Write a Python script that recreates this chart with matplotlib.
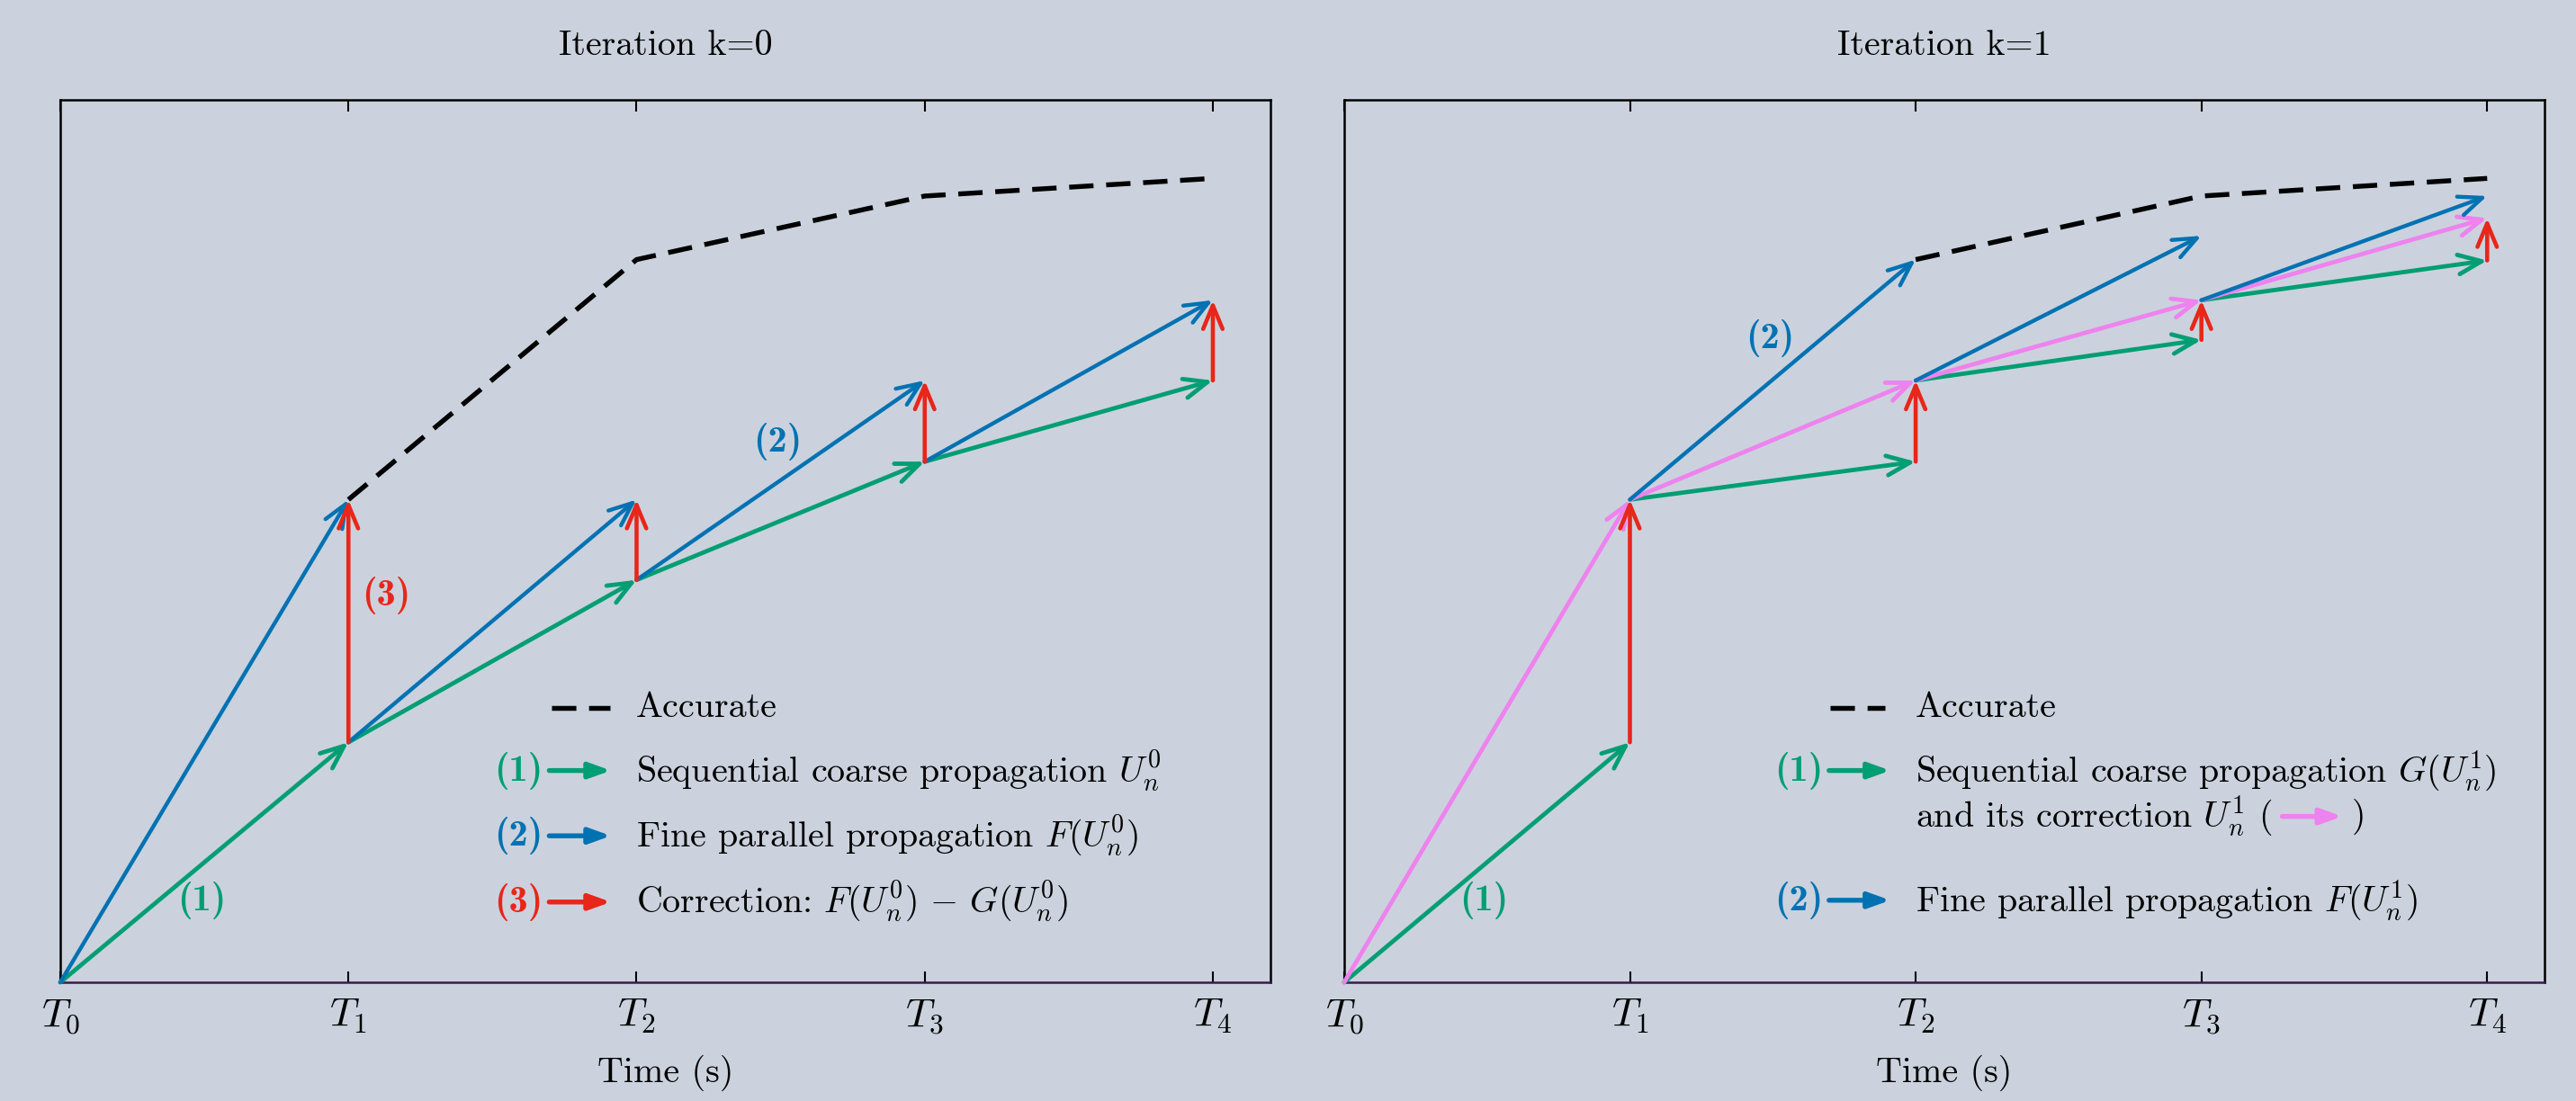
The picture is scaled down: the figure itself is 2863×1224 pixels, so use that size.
import numpy as np
import matplotlib
matplotlib.use("Agg")
from matplotlib import pyplot as plt

plt.rcParams['font.family'] = 'serif'
plt.rcParams['font.serif'] = ['cmr10']
plt.rcParams['mathtext.fontset'] = 'cm'
plt.rcParams['axes.unicode_minus'] = False
plt.rcParams['font.size'] = 9.6

BG = '#cbd2dd'
GREEN = '#009e73'
BLUE = '#0072b2'
RED = '#e8261a'
PINK = '#ee82ee'
FS = 9.6
DASH = (0, (5, 2.6))

# time points
times = [0, 1, 2, 3, 4]
tick_labels = [r'$T_0$', r'$T_1$', r'$T_2$', r'$T_3$', r'$T_4$']

# accurate solution (dashed)
accurate = [0.0, 5.47, 8.19, 8.91, 9.11]

# iteration k=0
coarse_k0 = [0.0, 2.72, 4.56, 5.90, 6.82]      # U_n^0
fine_k0 = [5.47, 5.47, 6.82, 7.73]             # F(U_n^0) at T_{n+1}

# iteration k=1
corrected_k1 = [0.0, 5.47, 6.82, 7.73, 8.66]   # U_n^1 (pink)
coarse_k1 = [2.72, 5.90, 7.28, 8.18]           # G(U_n^1) at T_{n+1}
fine_k1 = [8.19, 8.46, 8.91]                   # F(U_n^1) at T_{n+2}


def arrow(ax, p0, p1, color, lw, style='->,head_length=0.65,head_width=0.27',
          transform=None, z=3):
    kw = dict(arrowstyle=style, color=color, lw=lw, shrinkA=0, shrinkB=0)
    if transform is None:
        ax.annotate('', xy=p1, xytext=p0, arrowprops=kw, zorder=z)
    else:
        ax.annotate('', xy=p1, xytext=p0, xycoords=transform,
                    textcoords=transform, arrowprops=kw, zorder=z)


def tag(ax, x, y, num, color, transform=None, ha='center'):
    ax.text(x, y, '(%s)' % num, color=color, fontsize=FS + 0.6, family='cmb10',
            ha=ha, va='center', transform=transform or ax.transData)


def setup_axes(ax, title):
    ax.set_facecolor(BG)
    ax.set_xlim(0, 4.2)
    ax.set_ylim(0, 10)
    ax.set_xticks(times)
    ax.set_xticklabels(tick_labels, fontsize=FS + 1.2)
    ax.set_yticks([])
    ax.tick_params(axis='x', direction='in', top=True, length=3, width=0.5, pad=4)
    for s in ax.spines.values():
        s.set_linewidth(0.6)
    ax.spines['bottom'].set_color('#3b1a4f')
    ax.set_xlabel('Time (s)', fontsize=FS, labelpad=5)
    ax.set_title(title, fontsize=FS, pad=12)


def legend_row(ax, y, num, color, label):
    tr = ax.transAxes
    tag(ax, 0.399, y, num, color, transform=tr, ha='right')
    arrow(ax, (0.404, y), (0.455, y), color, 1.3,
          '-|>,head_length=0.5,head_width=0.18', transform=tr)
    ax.text(0.476, y, label, fontsize=FS, ha='left', va='center', transform=tr)


fig = plt.figure(figsize=(2863 / 300, 1224 / 300), dpi=300, facecolor=BG)
ax0 = fig.add_axes([0.0234, 0.1078, 0.4698, 0.8015])
ax1 = fig.add_axes([0.5218, 0.1078, 0.4659, 0.8015])

# ---------------- iteration k=0 ----------------
setup_axes(ax0, 'Iteration k=0')
ax0.plot(times[1:], accurate[1:], color='black', lw=1.3, ls=DASH, zorder=2)
for n in range(4):
    arrow(ax0, (times[n], coarse_k0[n]), (times[n + 1], coarse_k0[n + 1]), GREEN, 1.15)
    arrow(ax0, (times[n], coarse_k0[n]), (times[n + 1], fine_k0[n]), BLUE, 1.05)
    arrow(ax0, (times[n + 1], coarse_k0[n + 1]), (times[n + 1], fine_k0[n]), RED, 1.1, z=4)

tag(ax0, 0.49, 0.93, '1', GREEN)
tag(ax0, 2.49, 6.13, '2', BLUE)
tag(ax0, 1.13, 4.38, '3', RED)

ax0.plot([0.406, 0.454], [0.311, 0.311], color='black', lw=1.3, ls=DASH,
         transform=ax0.transAxes)
ax0.text(0.476, 0.311, 'Accurate', fontsize=FS, ha='left', va='center', transform=ax0.transAxes)
legend_row(ax0, 0.240, '1', GREEN, r'Sequential coarse propagation $U_n^0$')
legend_row(ax0, 0.166, '2', BLUE, r'Fine parallel propagation $F(U_n^0)$')
legend_row(ax0, 0.091, '3', RED, r'Correction: $F(U_n^0)\,-\,G(U_n^0)$')

# ---------------- iteration k=1 ----------------
setup_axes(ax1, 'Iteration k=1')
ax1.plot(times[2:], accurate[2:], color='black', lw=1.3, ls=DASH, zorder=2)
for n in range(4):
    arrow(ax1, (times[n], corrected_k1[n]), (times[n + 1], coarse_k1[n]), GREEN, 1.15)
    arrow(ax1, (times[n], corrected_k1[n]), (times[n + 1], corrected_k1[n + 1]), PINK, 1.15)
    if n >= 1:
        arrow(ax1, (times[n], corrected_k1[n]), (times[n + 1], fine_k1[n - 1]), BLUE, 1.05)
    arrow(ax1, (times[n + 1], coarse_k1[n]), (times[n + 1], corrected_k1[n + 1]), RED, 1.1, z=4)

tag(ax1, 0.49, 0.93, '1', GREEN)
tag(ax1, 1.49, 7.30, '2', BLUE)

ax1.plot([0.405, 0.451], [0.311, 0.311], color='black', lw=1.3, ls=DASH,
         transform=ax1.transAxes)
ax1.text(0.476, 0.311, 'Accurate', fontsize=FS, ha='left', va='center', transform=ax1.transAxes)
legend_row(ax1, 0.240, '1', GREEN, r'Sequential coarse propagation $G(U_n^1)$')
legend_row(ax1, 0.093, '2', BLUE, r'Fine parallel propagation $F(U_n^1)$')
t = ax1.text(0.476, 0.188, r'and its correction $U_n^1$ (', fontsize=FS,
             ha='left', va='center', transform=ax1.transAxes)

fig.canvas.draw()
bb = t.get_window_extent().transformed(ax1.transAxes.inverted())
x_start = bb.x1 + 0.008
arrow(ax1, (x_start, 0.188), (x_start + 0.05, 0.188), PINK, 1.3,
      '-|>,head_length=0.5,head_width=0.18', transform=ax1.transAxes)
ax1.text(x_start + 0.058, 0.188, ')', fontsize=FS, ha='left', va='center',
         transform=ax1.transAxes)

fig.savefig('out.png', dpi=300, facecolor=BG)
